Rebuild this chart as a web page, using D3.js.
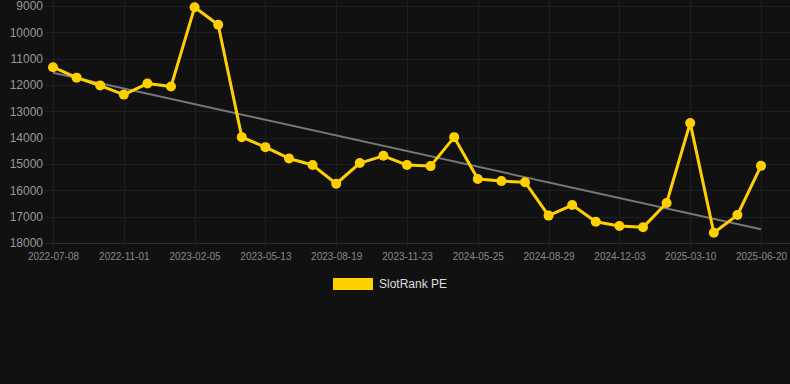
<!DOCTYPE html>
<html>
<head>
<meta charset="utf-8">
<script src="https://cdn.jsdelivr.net/npm/d3@7"></script>
<style>
  html, body { margin: 0; padding: 0; background: #111111; }
  svg { display: block; font-family: "Liberation Sans", Arial, sans-serif; }
</style>
</head>
<body>
<svg id="chart" width="790" height="384"></svg>
<script>
// categories (only every third one is labelled on the axis)
const dates = [
  '2022-07-08', '2022-08-15', '2022-09-22', '2022-11-01', '2022-12-05', '2023-01-05',
  '2023-02-05', '2023-03-10', '2023-04-12', '2023-05-13', '2023-06-15', '2023-07-18',
  '2023-08-19', '2023-09-20', '2023-10-22', '2023-11-23', '2024-01-25', '2024-03-25',
  '2024-05-25', '2024-06-25', '2024-07-28', '2024-08-29', '2024-09-30', '2024-11-01',
  '2024-12-03', '2025-01-05', '2025-02-07', '2025-03-10', '2025-04-15', '2025-05-18',
  '2025-06-20'
];

const rankValues = [
  11325, 11720, 12020, 12365, 11945, 12060,
  9050, 9710, 13980, 14360, 14790, 15040,
  15750, 14965, 14690, 15040, 15080, 13980,
  15570, 15650, 15690, 16960, 16560, 17190,
  17355, 17405, 16480, 13440, 17610, 16940,
  15070
];

const yTicks = [9000, 10000, 11000, 12000, 13000, 14000, 15000, 16000, 17000, 18000];
const seriesName = 'SlotRank PE';

const svg = d3.select('#chart');
const plot = { left: 45, right: 790, top: 6, bottom: 243 };

const x = d3.scalePoint()
  .domain(dates)
  .range([53, 761]);

// rank axis is reversed: better rank at the top
const y = d3.scaleLinear()
  .domain([9000, 18000])
  .range([plot.top, plot.bottom]);

const labelledDates = dates.filter((d, i) => i % 3 === 0);

// grid
svg.append('g')
  .selectAll('line')
  .data(yTicks)
  .enter().append('line')
  .attr('x1', plot.left)
  .attr('x2', plot.right)
  .attr('y1', d => Math.round(y(d)) + 0.5)
  .attr('y2', d => Math.round(y(d)) + 0.5)
  .attr('stroke', d => d === 18000 ? '#2c2c2c' : '#1e1e1e')
  .attr('stroke-width', 1);

svg.append('g')
  .selectAll('line')
  .data(labelledDates)
  .enter().append('line')
  .attr('x1', d => Math.round(x(d)) + 0.5)
  .attr('x2', d => Math.round(x(d)) + 0.5)
  .attr('y1', 0)
  .attr('y2', plot.bottom + 5)
  .attr('stroke', '#1e1e1e')
  .attr('stroke-width', 1);

// y axis labels
const yAxis = d3.axisLeft(y).tickValues(yTicks).tickSize(0).tickPadding(0).tickFormat(d3.format('d'));
svg.append('g')
  .attr('transform', 'translate(43,0)')
  .call(yAxis)
  .call(g => g.select('.domain').remove())
  .selectAll('text')
  .attr('fill', '#999999')
  .attr('font-size', 12)
  .attr('font-family', '"Liberation Sans", Arial, sans-serif');

// x axis labels
const xAxis = d3.axisBottom(x).tickValues(labelledDates).tickSize(0).tickPadding(10);
svg.append('g')
  .attr('transform', 'translate(0,' + plot.bottom + ')')
  .call(xAxis)
  .call(g => g.select('.domain').remove())
  .selectAll('text')
  .attr('fill', '#888888')
  .attr('font-size', 10)
  .attr('font-family', '"Liberation Sans", Arial, sans-serif');

// linear trend (least squares over index)
const n = rankValues.length;
const meanI = (n - 1) / 2;
const meanV = d3.mean(rankValues);
let sxy = 0, sxx = 0;
rankValues.forEach((v, i) => { sxy += (i - meanI) * (v - meanV); sxx += (i - meanI) * (i - meanI); });
const slope = sxy / sxx;
const intercept = meanV - slope * meanI;

svg.append('line')
  .attr('x1', x(dates[0]))
  .attr('y1', y(intercept))
  .attr('x2', x(dates[n - 1]))
  .attr('y2', y(intercept + slope * (n - 1)))
  .attr('stroke', '#777777')
  .attr('stroke-width', 2);

// series
const line = d3.line()
  .x((d, i) => x(dates[i]))
  .y(d => y(d));

svg.append('path')
  .datum(rankValues)
  .attr('d', line)
  .attr('fill', 'none')
  .attr('stroke', '#FFD000')
  .attr('stroke-width', 3)
  .attr('stroke-linejoin', 'round');

svg.append('g')
  .selectAll('circle')
  .data(rankValues)
  .enter().append('circle')
  .attr('cx', (d, i) => x(dates[i]))
  .attr('cy', d => y(d))
  .attr('r', 5)
  .attr('fill', '#FFD000');

// legend
const legend = svg.append('g').attr('transform', 'translate(333,278)');
legend.append('rect')
  .attr('width', 40)
  .attr('height', 12)
  .attr('fill', '#FFD000');
legend.append('text')
  .attr('x', 46)
  .attr('y', 10)
  .attr('fill', '#dddddd')
  .attr('font-size', 12)
  .text(seriesName);
</script>
</body>
</html>
